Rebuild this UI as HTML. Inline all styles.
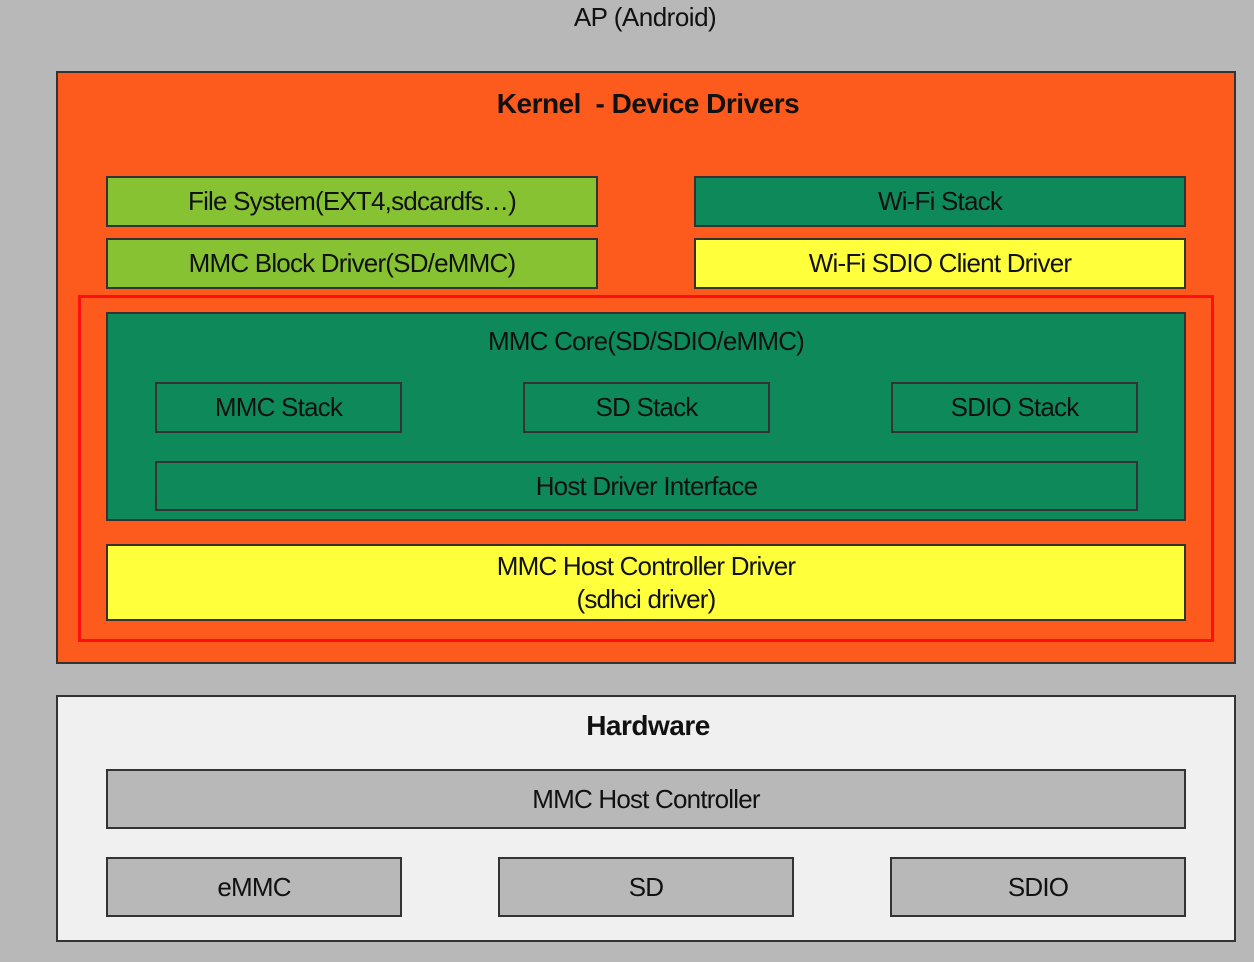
<!DOCTYPE html>
<html><head><meta charset="utf-8"><style>
body{margin:0;width:1254px;height:962px;background:#b8b8b8;position:relative;overflow:hidden;font-family:"Liberation Sans",sans-serif;color:#111}
div{position:absolute;box-sizing:border-box}
.b{border:2px solid #333;display:flex;align-items:center;justify-content:center;font-size:26px;letter-spacing:-0.8px;text-align:center;line-height:33px}
.lg{background:#86c232}.dg{background:#0e8a5a}.y{background:#ffff3c}.g{background:#b8b8b8}
.t{font-size:28px;font-weight:bold;width:100%;text-align:center;letter-spacing:-0.5px}
</style></head><body>
<div style="left:0;top:2px;width:1290px;text-align:center;font-size:26px;letter-spacing:-0.5px">AP (Android)</div>
<div style="left:56px;top:71px;width:1180px;height:593px;background:#fd5a1e;border:2px solid #333"></div>
<div class="t" style="left:0;top:88px;width:1296px">Kernel&nbsp; - Device Drivers</div>
<div class="b lg" style="left:106px;top:176px;width:492px;height:51px">File System(EXT4,sdcardfs…)</div>
<div class="b lg" style="left:106px;top:238px;width:492px;height:51px">MMC Block Driver(SD/eMMC)</div>
<div class="b dg" style="left:694px;top:176px;width:492px;height:51px">Wi-Fi Stack</div>
<div class="b y" style="left:694px;top:238px;width:492px;height:51px">Wi-Fi SDIO Client Driver</div>
<div style="left:78px;top:295px;width:1136px;height:347px;border:3px solid #ff1010"></div>
<div class="b dg" style="left:106px;top:312px;width:1080px;height:209px;align-items:flex-start;padding-top:11px">MMC Core(SD/SDIO/eMMC)</div>
<div class="b dg" style="left:155px;top:382px;width:247px;height:51px">MMC Stack</div>
<div class="b dg" style="left:523px;top:382px;width:247px;height:51px">SD Stack</div>
<div class="b dg" style="left:891px;top:382px;width:247px;height:51px">SDIO Stack</div>
<div class="b dg" style="left:155px;top:461px;width:983px;height:50px">Host Driver Interface</div>
<div class="b y" style="left:106px;top:544px;width:1080px;height:77px">MMC Host Controller Driver<br>(sdhci driver)</div>
<div style="left:56px;top:695px;width:1180px;height:247px;background:#f0f0f0;border:2px solid #333"></div>
<div class="t" style="left:0;top:710px;width:1296px">Hardware</div>
<div class="b g" style="left:106px;top:769px;width:1080px;height:60px">MMC Host Controller</div>
<div class="b g" style="left:106px;top:857px;width:296px;height:60px">eMMC</div>
<div class="b g" style="left:498px;top:857px;width:296px;height:60px">SD</div>
<div class="b g" style="left:890px;top:857px;width:296px;height:60px">SDIO</div>
</body></html>
